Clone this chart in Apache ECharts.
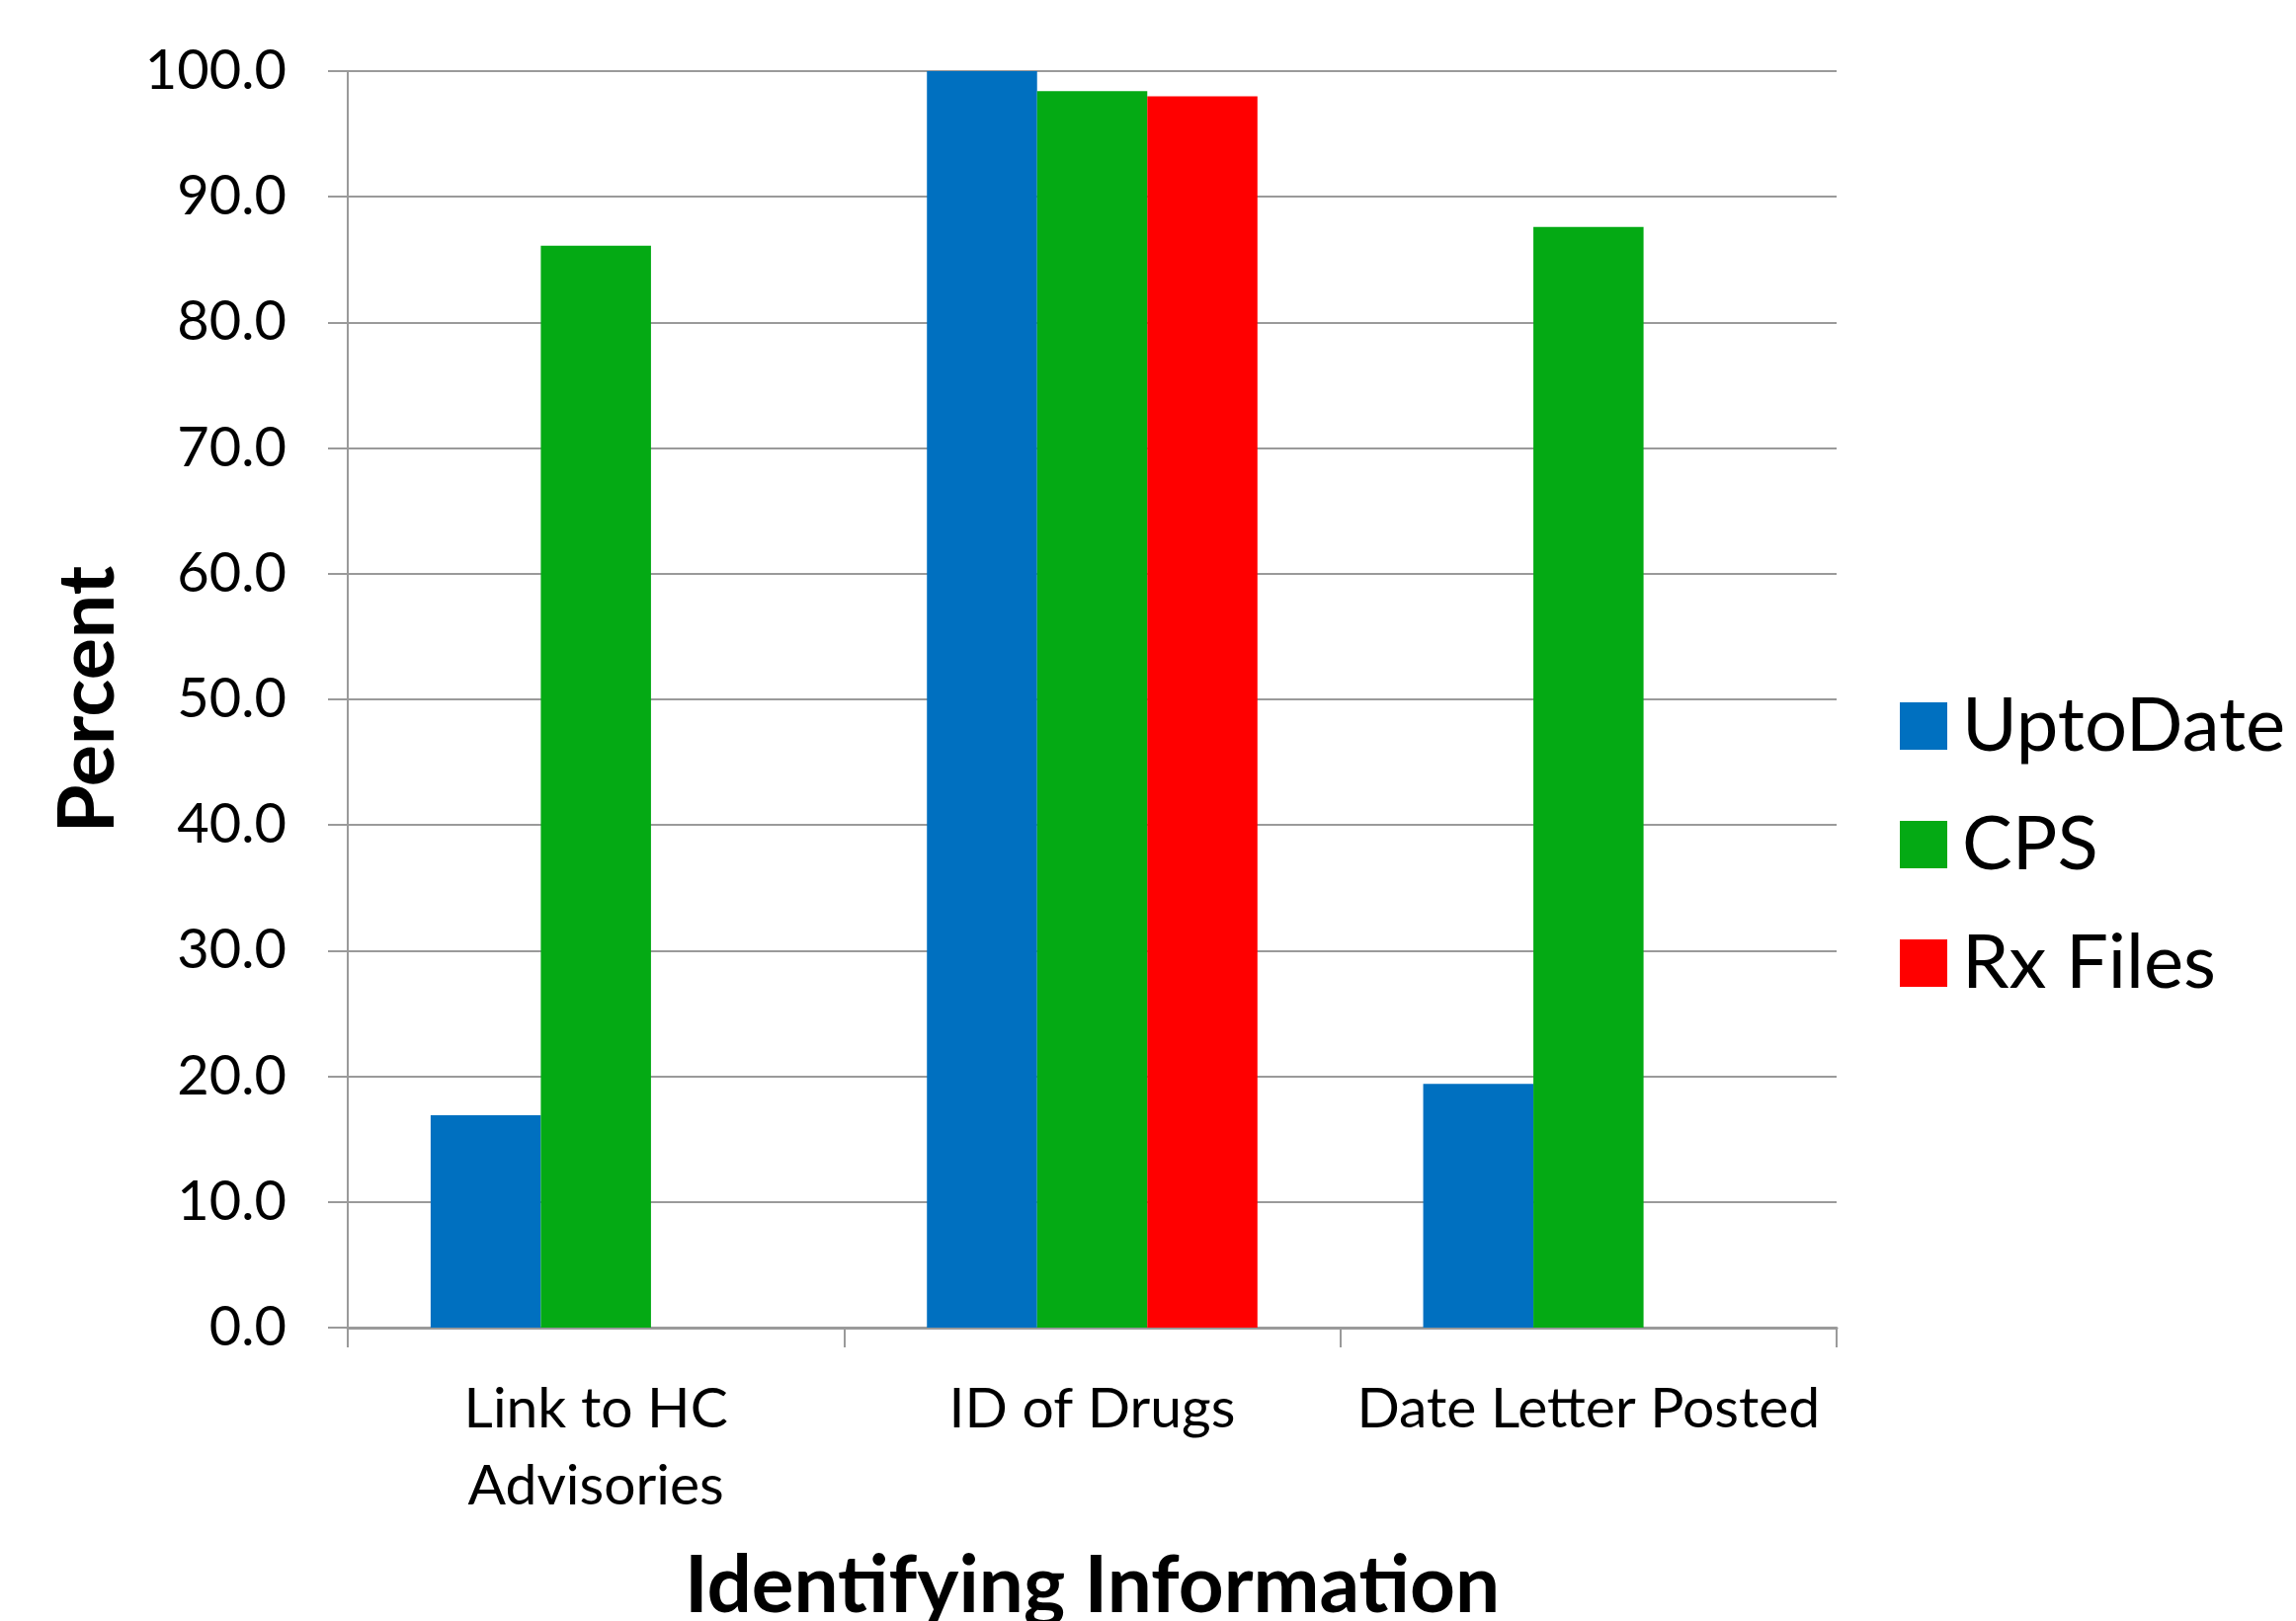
<!DOCTYPE html>
<html>
<head>
<meta charset="utf-8">
<script src="https://cdn.jsdelivr.net/npm/echarts@6/dist/echarts.min.js"></script>
<style>
html,body{margin:0;padding:0;background:#fff;}
#chart{width:2324px;height:1641px;}
</style>
</head>
<body>
<div id="chart"></div>
<script>
const categories = ['Link to HC\nAdvisories', 'ID of Drugs', 'Date Letter Posted'];
const seriesNames = ['UptoDate', 'CPS', 'Rx Files'];
const uptoDate = [16.9, 100.0, 19.4];
const cps = [86.1, 98.4, 87.6];
const rxFiles = [null, 98.0, null];
const colors = ['#0070C0', '#04AA14', '#FF0000'];

const FONT = 'Lato';
const chart = echarts.init(document.getElementById('chart'));
const mkSeries = (name, data, color) => ({
  name: name, type: 'bar', data: data,
  barGap: '0%', barCategoryGap: '33.4%',
  itemStyle: { color: color },
  animation: false
});
chart.setOption({
  animation: false,
  backgroundColor: '#ffffff',
  color: colors,
  grid: { left: 352, right: 465, top: 72, bottom: 297, containLabel: false, outerBoundsMode: 'none' },
  legend: {
    orient: 'vertical', left: 1918, top: 692,
    itemWidth: 48, itemHeight: 48, itemGap: 44,
    icon: 'rect',
    data: seriesNames,
    textStyle: { fontFamily: FONT, fontSize: 76, color: '#000', lineHeight: 48, padding: [0,0,0,10] }
  },
  xAxis: {
    type: 'category', data: categories,
    name: 'Identifying Information', nameLocation: 'middle', nameGap: 222,
    nameTextStyle: { fontFamily: FONT, fontSize: 80, fontWeight: 'bold', color: '#000' },
    axisLine: { show: true, lineStyle: { color: '#9a9a9a', width: 3 } },
    axisTick: { show: true, length: 20, lineStyle: { color: '#9a9a9a', width: 2 } },
    axisLabel: { fontFamily: FONT, fontSize: 57, color: '#000', margin: 44, lineHeight: 78, interval: 0 }
  },
  yAxis: {
    type: 'value', min: 0, max: 100, interval: 10,
    name: 'Percent', nameLocation: 'middle', nameGap: 223, nameRotate: 90,
    nameTextStyle: { fontFamily: FONT, fontSize: 79, fontWeight: 'bold', color: '#000' },
    axisLine: { show: true, lineStyle: { color: '#9a9a9a', width: 2 } },
    axisTick: { show: true, length: 20, lineStyle: { color: '#9a9a9a', width: 2 } },
    splitLine: { show: true, lineStyle: { color: '#9a9a9a', width: 2 } },
    axisLabel: { fontFamily: FONT, fontSize: 56, color: '#000', margin: 62, formatter: v => v.toFixed(1) }
  },
  series: [
    mkSeries(seriesNames[0], uptoDate, colors[0]),
    mkSeries(seriesNames[1], cps, colors[1]),
    mkSeries(seriesNames[2], rxFiles, colors[2])
  ]
});
</script>
</body>
</html>
